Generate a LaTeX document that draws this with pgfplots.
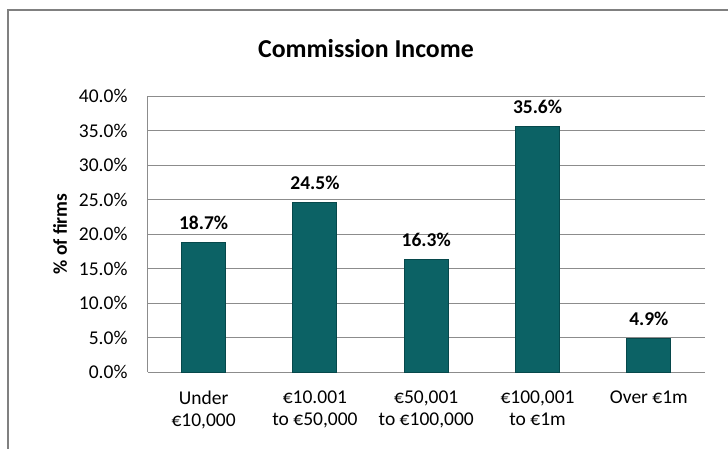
\documentclass[border=0pt]{standalone}
\usepackage{pgfplots}
\pgfplotsset{compat=1.18}
\usepackage{fontspec}
\setmainfont{Carlito}
\definecolor{barmain}{RGB}{12,98,101}
\definecolor{bardark}{RGB}{6,72,75}
\definecolor{gridgray}{RGB}{140,140,140}
\definecolor{framegray}{RGB}{128,128,128}
\begin{document}
\begin{tikzpicture}
\useasboundingbox (0pt,0pt) rectangle (728pt,448pt);
\draw[framegray, line width=2pt] (7.5pt,-5pt) -- (7.5pt,438pt) -- (735pt,438pt);
\begin{axis}[
  at={(148pt,76pt)}, anchor=south west,
  scale only axis, width=556.5pt, height=276pt,
  ymin=0, ymax=40, ytick={0,5,10,15,20,25,30,35,40},
  yticklabels={0.0\%,5.0\%,10.0\%,15.0\%,20.0\%,25.0\%,30.0\%,35.0\%,40.0\%},
  xmin=-0.5, xmax=4.5, xtick=data,
  xticklabels={{Under\\€10,000},{€10.001\\to €50,000},{€50,001\\to €100,000},{€100,001\\to €1m},{Over €1m}},
  enlargelimits=false,
  axis x line*=bottom, axis y line*=left,
  axis line style={gridgray, line width=1pt},
  ymajorgrids, grid style={gridgray, line width=1pt},
  major tick length=0pt,
  tick label style={font=\fontsize{19.5}{22}\selectfont},
  xticklabel style={align=center, anchor=north, yshift=-15pt},
  yticklabel style={anchor=east, xshift=-17pt},
  ylabel={\% of firms},
  every axis y label/.style={at={(axis description cs:-0.158,0.5)}, rotate=90, anchor=center, font=\bfseries\fontsize{19.5}{22}\selectfont},
  title={Commission Income},
  title style={font=\bfseries\fontsize{25.8}{30}\selectfont, at={(axis description cs:0.3917,1.1486)}, anchor=center},
  ybar, bar width=44pt,
  nodes near coords={\pgfmathprintnumber[fixed,fixed zerofill,precision=1,assume math mode=true]{\pgfplotspointmeta}\%},
  every node near coord/.append style={font=\bfseries\fontsize{19.5}{22}\selectfont, anchor=south, yshift=9pt, black},
]
\addplot[draw=bardark, line width=1pt, fill=barmain] coordinates {(0,18.7) (1,24.5) (2,16.3) (3,35.6) (4,4.9)};
\end{axis}
\end{tikzpicture}
\end{document}
